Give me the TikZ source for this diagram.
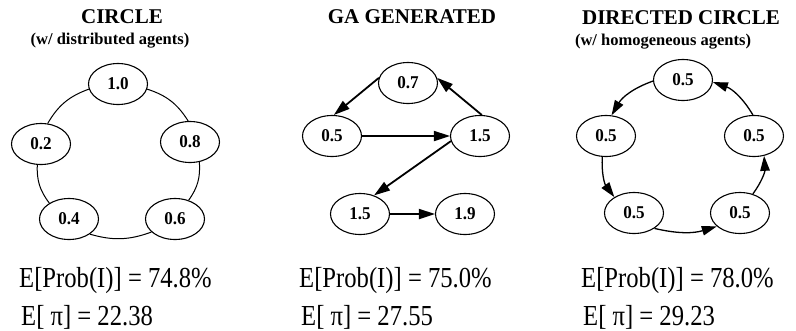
\documentclass[tikz,border=0pt]{standalone}
\usepackage{fontspec}
\setmainfont{Liberation Serif}
\newfontfamily\condfont{Liberation Serif}[FakeStretch=0.85]
\newfontfamily\labelfont{Liberation Serif}[FakeStretch=0.95]
\usetikzlibrary{shapes.geometric,arrows.meta}
\begin{document}
\begin{tikzpicture}[x=1pt,y=-1pt,
 agent/.style={draw, ellipse, line width=1.1pt, minimum width=59pt, minimum height=41pt, inner sep=0pt, font=\labelfont\fontsize{18}{18}\selectfont\bfseries},
 titletext/.style={anchor=base, inner sep=0pt, font=\fontsize{21}{21}\selectfont\bfseries},
 subtitletext/.style={anchor=base, inner sep=0pt, font=\fontsize{16.5}{16.5}\selectfont\bfseries},
 result/.style={anchor=base west, inner sep=0pt, font=\condfont\fontsize{29}{29}\selectfont},
 link/.style={line width=1pt},
 arc/.style={line width=1.3pt, -{Triangle[length=15pt,width=9.5pt]}},
 darc/.style={line width=1.8pt, -{Triangle[length=16pt,width=10pt]}},
]
\useasboundingbox (0,0) rectangle (796,330);

% titles
\node[titletext] (t1) at (122,23) {CIRCLE};
\node[subtitletext] (s1) at (110,44) {(w/ distributed agents)};
\node[titletext] (t2) at (412,23) {GA GENERATED};
\node[titletext] (t3) at (681,24) {DIRECTED CIRCLE};
\node[subtitletext] (s3) at (663,45) {(w/ homogeneous agents)};

% circle
\node[agent] (a10) at (118,84) {1.0};
\node[agent] (a02) at (41,144) {0.2};
\node[agent] (a08) at (190,142) {0.8};
\node[agent] (a04) at (69,219) {0.4};
\node[agent] (a06) at (175,219) {0.6};
\draw[link] (a10.190) to[bend right=20] (a02.72);
\draw[link] (a02.-100) to[bend right=20] (a04.141);
\draw[link] (a04.-36) to[bend right=18] (a06.209);
\draw[link] (a06.54) to[bend right=20] (a08.-65);
\draw[link] (a08.95) to[bend right=20] (a10.-10);

% GA generated
\node[agent] (g07) at (408,83) {0.7};
\node[agent] (g05) at (332,136) {0.5};
\node[agent] (g15) at (480,136) {1.5};
\node[agent] (g15b) at (360,214) {1.5};
\node[agent] (g19) at (465,214) {1.9};
\draw[darc] (g07.170) -- (g05.85);
\draw[darc] (g05.east) -- (g15.west);
\draw[darc] (g15.85) -- (g07.10);
\draw[darc] (g15.190) -- (g15b.53);
\draw[darc] (g15b.east) -- (g19.west);

% directed circle
\node[agent] (dt) at (683,80) {0.5};
\node[agent] (dl) at (606,136) {0.5};
\node[agent] (dr) at (754,136) {0.5};
\node[agent] (dbl) at (634,213) {0.5};
\node[agent] (dbr) at (740,213) {0.5};
\draw[arc] (dt.182) to[bend right=20] (dl.75);
\draw[arc] (dl.-100) to[bend right=20] (dbl.141);
\draw[arc] (dbl.-37) to[bend right=15] (dbr.210);
\draw[arc] (dbr.56) to[bend right=20] (dr.-63);
\draw[arc] (dr.93) to[bend right=20] (dt.-4);

% results
\node[result] (p1) at (19,287) {E[Prob(I)] = 74.8\%};
\node[result] (p2) at (299,287) {E[Prob(I)] = 75.0\%};
\node[result] (p3) at (581,287) {E[Prob(I)] = 78.0\%};
\node[result] (e1) at (21,325) {E[ π] = 22.38};
\node[result] (e2) at (301,325) {E[ π] = 27.55};
\node[result] (e3) at (583,325) {E[ π] = 29.23};
\end{tikzpicture}
\end{document}
